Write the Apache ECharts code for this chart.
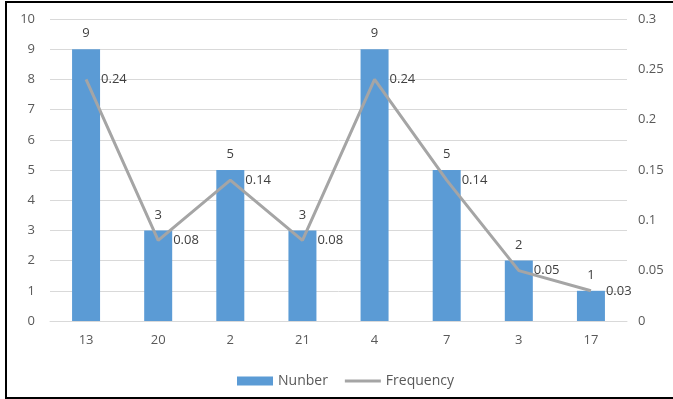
<!DOCTYPE html>
<html>
<head>
<meta charset="utf-8">
<script src="https://cdn.jsdelivr.net/npm/echarts@6/dist/echarts.min.js"></script>
<style>
  html, body { margin: 0; padding: 0; background: #fff; }
  #frame { position: absolute; left: 5px; top: 1px; width: 680px; height: 394px;
           border: 2px solid #000; border-right: none; box-sizing: content-box; }
  #chart { position: absolute; left: 0; top: 0; width: 673px; height: 399px; }
</style>
</head>
<body>
<div id="frame"></div>
<div id="chart"></div>
<script>
// Category labels along the x axis
const categories = ['13', '20', '2', '21', '4', '7', '3', '17'];
// Count per category (bars, left axis)
const numberValues = [9, 3, 5, 3, 9, 5, 2, 1];
// Relative frequency per category (line, right axis)
const frequencyValues = [0.24, 0.08, 0.14, 0.08, 0.24, 0.14, 0.05, 0.03];

const fontFamily = 'Open Sans, Noto Sans, sans-serif';
const axisFont = { fontFamily: fontFamily, fontSize: 13 };
const dataFont = { fontFamily: fontFamily, fontSize: 13 };

const chart = echarts.init(document.getElementById('chart'), null, { renderer: 'canvas' });
chart.setOption({
  animation: false,
  backgroundColor: 'transparent',
  grid: { left: 50, right: 46, top: 19, bottom: 78 },
  legend: {
    bottom: 11,
    left: 237,
    padding: 0,
    itemWidth: 36,
    itemHeight: 9,
    itemGap: 17,
    symbolKeepAspect: true,
    textStyle: { color: '#595959', fontFamily: fontFamily, fontSize: 14 },
    data: [
      { name: 'Nunber', icon: 'rect' },
      { name: 'Frequency', icon: 'path://M0,0 L36,0 L36,3 L0,3 Z' }
    ]
  },
  xAxis: {
    type: 'category',
    data: categories,
    axisTick: { show: false },
    axisLine: { lineStyle: { color: '#D9D9D9' } },
    axisLabel: Object.assign({ color: '#595959', margin: 13 }, axisFont)
  },
  yAxis: [
    {
      type: 'value', min: 0, max: 10, interval: 1,
      axisLine: { show: false }, axisTick: { show: false },
      splitLine: { lineStyle: { color: '#D9D9D9' } },
      axisLabel: Object.assign({ color: '#595959', margin: 15 }, axisFont)
    },
    {
      type: 'value', min: 0, max: 0.3, interval: 0.05,
      axisLine: { show: false }, axisTick: { show: false },
      splitLine: { show: false },
      axisLabel: Object.assign({ color: '#595959', margin: 11,
        formatter: v => String(parseFloat(v.toFixed(2))) }, axisFont)
    }
  ],
  series: [
    {
      name: 'Nunber',
      type: 'bar',
      data: numberValues,
      barWidth: 28,
      itemStyle: { color: '#5B9BD5' },
      label: Object.assign({ show: true, position: 'top', distance: 9, color: '#404040' }, dataFont)
    },
    {
      name: 'Frequency',
      type: 'line',
      yAxisIndex: 1,
      data: frequencyValues,
      symbol: 'circle',
      symbolSize: 0,
      showSymbol: true,
      lineStyle: { color: '#A5A5A5', width: 3 },
      itemStyle: { color: '#A5A5A5' },
      label: Object.assign({ show: true, position: 'right', distance: 15, color: '#404040',
        formatter: p => String(p.value) }, dataFont),
      z: 3
    }
  ]
});
</script>
</body>
</html>
